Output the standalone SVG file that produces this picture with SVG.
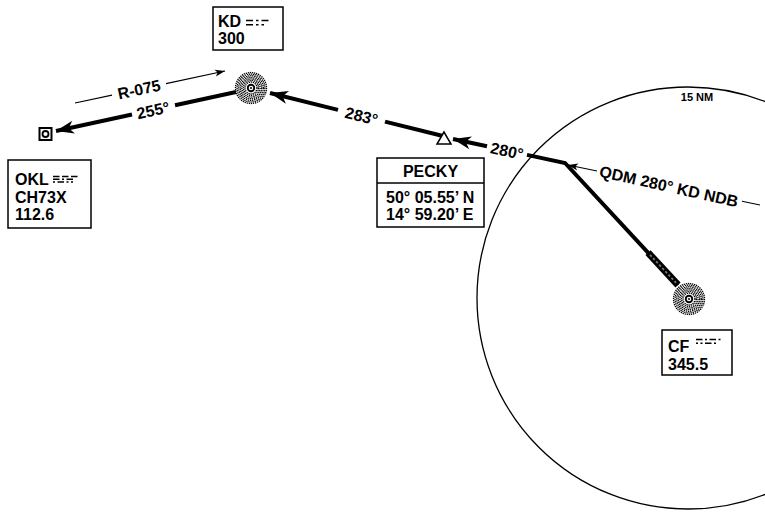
<svg xmlns="http://www.w3.org/2000/svg" xmlns:xlink="http://www.w3.org/1999/xlink" width="765" height="514" viewBox="0 0 765 514">
<style>
text{font-family:"Liberation Sans",Arial,sans-serif;font-weight:bold;fill:#000}
.lbl{font-size:16px}
.box{fill:#fff;stroke:#000;stroke-width:1.5}
.trk{fill:none;stroke:#000;stroke-width:4;stroke-linejoin:miter}
.thin{fill:none;stroke:#000;stroke-width:1.2}
.morse{fill:none;stroke:#000;stroke-width:1.5}
.ring{fill:none;stroke:#000;stroke-width:1.3;stroke-dasharray:1.3 0.8}
</style>
<defs>
<marker id="ah" viewBox="-19 -7 20 14" refX="0" refY="0" markerWidth="20" markerHeight="14" markerUnits="userSpaceOnUse" orient="auto">
<path d="M0,0 L-18,-6.5 L-13,0 L-18,6.5 Z" fill="#000"/>
</marker>
<marker id="sh" viewBox="-11 -5 12 10" refX="0" refY="0" markerWidth="12" markerHeight="10" markerUnits="userSpaceOnUse" orient="auto">
<path d="M0,0 L-10,-3.5 L-7.5,0 L-10,3.5 Z" fill="#000"/>
</marker>
<g id="ndb">
<circle r="15.5" class="ring"/>
<circle r="13.9" class="ring"/>
<circle r="12.3" class="ring"/>
<circle r="10.7" class="ring"/>
<circle r="9.1" class="ring"/>
<circle r="7.5" class="ring"/>
<circle r="6" class="ring"/>
<circle r="4.2" fill="#000"/>
<circle r="2.3" fill="#fff"/>
<circle r="1" fill="#000"/>
</g>
</defs>

<g id="range-ring">
<circle cx="688" cy="298" r="211" fill="none" stroke="#000" stroke-width="1.3"/>
<text x="697" y="101" font-size="11" text-anchor="middle">15 NM</text>
</g>

<g id="connectors">
<line class="trk" x1="236" y1="92" x2="175" y2="105.2"/>
<line class="trk" x1="132" y1="114.5" x2="56" y2="131" marker-end="url(#ah)"/>
<text class="lbl" transform="translate(153,110) rotate(-12.2)" y="6" text-anchor="middle">255°</text>
<line class="thin" x1="75" y1="103" x2="112" y2="95.05"/>
<line class="thin" x1="166" y1="83.7" x2="225" y2="71" marker-end="url(#sh)"/>
<text class="lbl" transform="translate(139,89) rotate(-12.1)" y="6" text-anchor="middle">R-075</text>
<line class="trk" x1="443" y1="136" x2="385" y2="121.6"/>
<line class="trk" x1="338" y1="109.9" x2="270" y2="93" marker-end="url(#ah)"/>
<text class="lbl" transform="translate(361.5,115.7) rotate(14)" y="6" text-anchor="middle">283°</text>
<polyline class="trk" points="678,285 565,163 527,154.9"/>
<line class="trk" x1="487" y1="146.3" x2="453" y2="139" marker-end="url(#ah)"/>
<text class="lbl" transform="translate(507,150.6) rotate(12.1)" y="6" text-anchor="middle">280°</text>
<line x1="648" y1="252.6" x2="678" y2="285" stroke="#000" stroke-width="7"/>
<line x1="650" y1="254.8" x2="676" y2="282.8" stroke="#777" stroke-width="1.8" stroke-dasharray="2.5 2"/>
<line class="thin" x1="760" y1="205" x2="742" y2="201.25"/>
<line class="thin" x1="597" y1="171" x2="568" y2="165" marker-end="url(#sh)"/>
<text class="lbl" transform="translate(669,186) rotate(12.5)" y="6" text-anchor="middle">QDM 280° KD NDB</text>
</g>

<g id="kd-ndb">
<use xlink:href="#ndb" x="251" y="88"/>
</g>
<g id="kd-box">
<rect class="box" x="213" y="7" width="70" height="43"/>
<text class="lbl" x="218" y="27">KD</text>
<path class="morse" stroke-width="1.7" d="M246,20.5h7m3,0h2.5m3,0h7 M246,24.8h7m3,0h2.5m3,0h2.5"/>
<text class="lbl" x="218" y="43.5">300</text>
</g>

<g id="okl-vordme">
<rect x="39.5" y="128" width="12" height="12" fill="#fff" stroke="#000" stroke-width="2"/>
<circle cx="45.5" cy="134" r="3" fill="#fff" stroke="#000" stroke-width="1.8"/>
</g>
<g id="okl-box">
<rect class="box" x="8" y="160" width="83" height="68"/>
<text class="lbl" x="15" y="185">OKL</text>
<path class="morse" stroke-width="1.3" d="M53,176.5h6.5m2.5,0h6.5m2.5,0h6.5 M53,179.3h6.5m2.5,0h2m2.5,0h6.5 M53,182.1h2m2.5,0h6.5m2.5,0h2m2.5,0h2"/>
<text class="lbl" x="15" y="203">CH73X</text>
<text class="lbl" x="15" y="220">112.6</text>
</g>

<g id="pecky">
<polygon points="444,132 437,144 451,144" fill="#fff" stroke="#000" stroke-width="1.5"/>
</g>
<g id="pecky-box">
<rect class="box" x="377" y="158" width="107" height="69"/>
<line x1="377" y1="183" x2="484" y2="183" stroke="#000" stroke-width="1.5"/>
<text class="lbl" x="430.5" y="177" text-anchor="middle">PECKY</text>
<text class="lbl" x="386" y="203">50° 05.55’ N</text>
<text class="lbl" x="386" y="220">14° 59.20’ E</text>
</g>

<g id="cf-ndb">
<use xlink:href="#ndb" x="689" y="299"/>
</g>
<g id="cf-box">
<rect class="box" x="662" y="330" width="70" height="45"/>
<text class="lbl" x="668" y="352">CF</text>
<path class="morse" stroke-width="1.5" d="M696,339.5h6.5m2.5,0h2m2.5,0h6.5m2.5,0h2 M696,343.3h2m2.5,0h2m2.5,0h6.5m2.5,0h2"/>
<text class="lbl" x="668" y="370">345.5</text>
</g>
</svg>
